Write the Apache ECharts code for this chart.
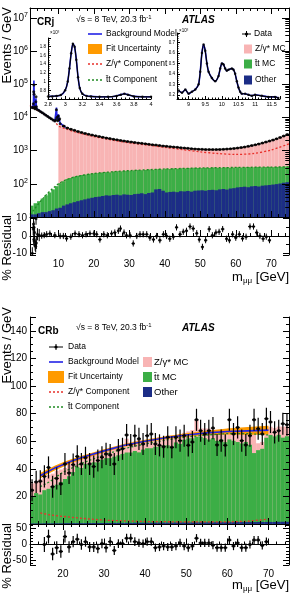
<!DOCTYPE html>
<html>
<head>
<meta charset="utf-8">
<script src="https://cdn.jsdelivr.net/npm/echarts@6.0.0/dist/echarts.min.js"></script>
<style>
  html, body { margin: 0; padding: 0; background: #fff; }
  #main { width: 295px; height: 600px; }
</style>
</head>
<body>
<div id="main"></div>
<script>
// ---------- CRj（上图）：1 GeV 分箱，2–75 GeV ----------
const otherJ = [12, 12, 13, 14, 14, 15, 16, 18,
  19, 22, 24, 26, 28, 30,
  32, 34, 36, 38, 40, 41,
  43, 45, 44, 46, 47, 45, 48, 47, 46, 49,
  50, 52, 49, 53, 55, 68, 70, 62, 55, 57,
  58, 56, 60, 59, 61, 58, 62, 63, 64, 62,
  65, 66, 64, 68, 70, 67, 72, 74, 78, 80,
  82, 79, 84, 86, 83, 88, 90, 92, 95, 98,
  102, 108, 112]
const ttbarJ = [10, 14, 17, 22, 31, 40, 52, 67,
  86, 98, 116, 124, 137, 145,
  153, 156, 164, 167, 170, 171,
  177, 180, 178, 189, 193, 193, 197, 203, 202, 206,
  210, 206, 213, 217, 210, 207, 210, 208, 230, 223,
  232, 229, 235, 231, 239, 237, 243, 237, 234, 243,
  235, 244, 241, 232, 238, 245, 233, 236, 237, 230,
  233, 241, 228, 232, 239, 227, 230, 233, 223, 224,
  223, 222, 223]
const zmcJ = [0, 0, 0, 0, 0, 0, 0, 0,
  5700, 5180, 4710, 4300, 3940, 3630, 3370, 3130, 2920, 2750,
  2590, 2450, 2320, 2200, 2090, 1980, 1880, 1800, 1720, 1640,
  1580, 1520, 1450, 1400, 1350, 1290, 1250, 1200, 1150, 1120,
  1070, 1040, 1000, 975, 935, 910, 875, 855, 825, 810,
  800, 780, 780, 770, 775, 790, 790, 810, 835, 860,
  885, 930, 975, 1030, 1110, 1180, 1280, 1385, 1500, 1625,
  1780, 1960, 2180, 2420, 2720]

const dataMassJ = [2.6, 2.8, 2.95, 3.05, 3.1, 3.15, 3.25, 3.4, 3.55, 3.65, 3.7, 3.8, 4.0, 4.5, 5.0,
  5.5, 6.0, 6.5, 7.0, 7.5, 8.0, 8.5, 9.0, 9.3, 9.45, 9.6, 9.8, 10.0, 10.2, 10.35, 10.5, 11.5,
  12.5, 13.5, 14.5, 15.5, 16.5, 17.5, 18.5, 19.5, 20.5, 21.5, 22.5, 23.5, 24.5, 25.5, 26.5, 27.5,
  28.5, 29.5, 30.5, 31.5, 32.5, 33.5, 34.5, 35.5, 36.5, 37.5, 38.5, 39.5, 40.5, 41.5, 42.5, 43.5,
  44.5, 45.5, 46.5, 47.5, 48.5, 49.5, 50.5, 51.5, 52.5, 53.5, 54.5, 55.5, 56.5, 57.5, 58.5, 59.5,
  60.5, 61.5, 62.5, 63.5, 64.5, 65.5, 66.5, 67.5, 68.5, 69.5, 70.5, 71.5, 72.5, 73.5, 74.5]
const dataJ = [20000, 19500, 26000, 60000, 95000, 50000, 21000, 18500, 19000, 30000, 42000, 21000, 17500, 16300, 15000,
  13800, 12700, 11700, 10800, 9900, 9100, 8400, 7800, 8500, 17000, 10000, 8000, 11000, 8500, 9200, 6500, 5500,
  4850, 4450, 4100, 3800, 3550, 3320, 3120, 2950, 2800, 2660, 2540, 2420, 2310, 2210, 2120, 2040,
  1960, 1890, 1830, 1770, 1710, 1660, 1610, 1560, 1510, 1470, 1430, 1390, 1350, 1320, 1290, 1260,
  1230, 1200, 1175, 1150, 1130, 1110, 1095, 1085, 1080, 1078, 1080, 1090, 1100, 1120, 1140, 1170,
  1200, 1240, 1290, 1350, 1420, 1500, 1600, 1700, 1820, 1950, 2100, 2280, 2500, 2750, 3050]

// 背景模型（共振区可见）
const modelMassJ = [2.6, 2.8, 2.95, 3.0, 3.05, 3.1, 3.15, 3.2, 3.3, 3.5, 3.6, 3.68, 3.75, 3.85, 4.0, 5, 6, 7, 8, 9,
  9.3, 9.46, 9.6, 9.8, 10.02, 10.2, 10.36, 10.5, 11, 12]
const modelJ = [20000, 19500, 25000, 40000, 80000, 130000, 70000, 30000, 19500, 18500, 21000, 38000, 26000, 18500, 17500,
  15000, 12700, 10800, 9100, 7800, 8500, 20000, 10500, 8200, 12500, 8800, 10000, 6800, 6000, 5000]
const zCompMassJ = [2, 3, 4, 5, 6, 7, 8, 9, 10, 12, 15, 20, 25, 30, 35, 40, 45, 50, 55, 60, 65, 70, 75]
const zCompJ = [23000, 19000, 16500, 14500, 12500, 10600, 9000, 7700, 5600, 4600, 3600, 2650, 2100, 1720,
  1480, 1260, 1080, 920, 820, 770, 820, 1050, 1600]
const ttCompMassJ = [2, 3, 4, 5, 6, 7, 8, 9, 10, 12, 15, 20, 25, 30, 40, 50, 60, 70, 75]
const ttCompJ = [12, 16, 22, 30, 40, 52, 66, 82, 100, 130, 165, 205, 230, 250, 280, 300, 312, 320, 325]

const resMassJ = [2.65, 2.9, 3.0, 3.05, 3.1, 3.2, 3.3, 3.45, 3.6, 3.7, 3.8, 4.1, 4.6, 5.3, 6.0,
  6.7, 7.6, 9.0, 10.5, 11.4, 12.3, 13.5, 14.7, 15.8, 16.8, 17.8, 18.9, 20.0, 20.8, 21.7, 22.8,
  23.8, 25.0, 25.9, 26.9, 27.5, 28.5, 29.2, 30.2, 31.1, 32.1, 33.0, 33.9, 34.9, 35.8, 36.8, 37.7,
  38.6, 39.6, 40.5, 41.4, 42.4, 43.3, 44.3, 45.2, 46.1, 47.1, 48.0, 49.0, 49.7, 50.6, 51.5, 52.5,
  53.4, 54.4, 55.3, 56.3, 57.4, 58.2, 59.1, 60.0, 61.0, 61.9, 62.9, 64.0, 65.0, 65.9, 66.8, 67.7,
  68.6, 69.5]
const resJ = [-10, 4, 7, -2, 5, -3, 2, -5, -6, 10, -4, 1, 0.5, 0.2, 0.5,
  1, 1.4, 0.5, 0, 0, -1.4, -0.4, 1.4, 1, 0.4, 1, 1.4, 1.4, 1, -2, 1,
  0.4, 1.4, 2, 3, 4.3, 2, 0.4, 0.4, -4.3, 0, 1, 1, 1, -1, -2, 0,
  -2.4, 1, 0, -1.6, -0.4, 5, 1, 2.4, 3, 5.5, 4.3, 1.6, -2, -6.3, -2.4, 4,
  0.4, 2, 2.4, 4, -1.6, -2.4, 1, -1, 1, -1.4, -0.4, 5.5, 5.5, 2, 0, -1.6,
  -0.4, -2.4]
const resErrLowJ = 3.5   // J/ψ 区域误差
const resErrJ = 1.8

// 插图：J/ψ 与 Υ 区域（×10³）
const insetMassA = [2.8, 2.85, 2.9, 2.95, 3.0, 3.03, 3.05, 3.07, 3.09, 3.11, 3.13, 3.15, 3.17, 3.2, 3.25,
  3.3, 3.4, 3.5, 3.6, 3.65, 3.69, 3.73, 3.8, 3.9, 4.0]
const insetA = [0.66, 0.66, 0.67, 0.69, 0.8, 1.0, 1.3, 1.65, 1.87, 1.8, 1.5, 1.1, 0.85, 0.72, 0.67,
  0.66, 0.65, 0.65, 0.67, 0.7, 0.72, 0.7, 0.66, 0.65, 0.65]
const insetMassB = [8.7, 8.8, 8.9, 9.0, 9.1, 9.2, 9.3, 9.35, 9.4, 9.45, 9.5, 9.55, 9.6, 9.7, 9.8, 9.9,
  9.95, 10.0, 10.05, 10.1, 10.15, 10.2, 10.3, 10.35, 10.4, 10.45, 10.5, 10.55, 10.6, 10.7, 10.8,
  10.9, 11.0, 11.2, 11.4, 11.6, 11.7]
const insetB = [0.24, 0.22, 0.25, 0.21, 0.23, 0.25, 0.3, 0.42, 0.6, 0.68, 0.62, 0.5, 0.42, 0.36, 0.33, 0.38,
  0.45, 0.5, 0.49, 0.45, 0.43, 0.44, 0.45, 0.44, 0.4, 0.33, 0.27, 0.23, 0.21, 0.21, 0.2,
  0.19, 0.2, 0.19, 0.18, 0.18, 0.17]

// ---------- CRb（下图）：1 GeV 分箱，12–75 GeV ----------
const otherB = [0.4, 0.4, 0.4, 0.5, 0.5, 0.5, 0.5, 0.5, 0.6, 0.6,
  0.6, 0.6, 0.6, 0.6, 0.7, 0.7, 0.7, 0.7, 0.7, 0.7,
  0.8, 0.8, 0.8, 0.8, 0.8, 0.9, 0.9, 0.9, 0.9, 0.9,
  1.0, 1.0, 1.0, 1.0, 1.0, 1.1, 1.1, 1.1, 1.1, 1.1,
  1.2, 1.2, 1.2, 1.2, 1.2, 1.3, 1.3, 1.3, 1.3, 1.3,
  1.4, 1.4, 1.4, 1.4, 1.4, 1.5, 1.5, 1.5, 1.5, 1.5,
  1.6, 1.6, 1.6]
const ttbarB = [20, 22, 21, 24, 25, 27, 28, 30, 32, 34,
  37, 41, 40, 43, 42, 44, 44, 46, 47, 47,
  48, 49, 50, 51, 51, 52, 51, 53, 54, 54,
  55, 55, 56, 56, 55, 58, 57, 60, 61, 61,
  62, 62, 61, 60, 61, 59, 60, 58, 60, 59,
  58, 57, 58, 56, 50, 52, 53, 61, 63, 62,
  63, 61, 62]
const zmcB = [9, 8, 11, 9, 10, 9, 10, 9, 8, 9,
  8, 6, 8, 6, 7, 6, 7, 6, 6, 7,
  7, 6, 6, 10, 7, 7, 9, 6, 6, 7,
  6, 7, 6, 7, 8, 5, 7, 5, 5, 6,
  12, 6, 7, 8, 6, 8, 7, 9, 8, 9,
  10, 9, 10, 11, 16, 5, 5, 7, 6, 6,
  6, 8, 7]
const dataMassB = [12.5, 13.5, 14.5, 15.5, 16.5, 17.5, 18.5, 19.5, 20.5, 21.5,
  22.5, 23.5, 24.5, 25.5, 26.5, 27.5, 28.5, 29.5, 30.5, 31.5,
  32.5, 33.5, 34.5, 35.5, 36.5, 37.5, 38.5, 39.5, 40.5, 41.5,
  42.5, 43.5, 44.5, 45.5, 46.5, 47.5, 48.5, 49.5, 50.5, 51.5,
  52.5, 53.5, 54.5, 55.5, 56.5, 57.5, 58.5, 59.5, 60.5, 61.5,
  62.5, 63.5, 64.5, 65.5, 66.5, 67.5, 68.5, 69.5, 70.5, 71.5,
  72.5, 73.5, 74.5]
const dataB = [24.5, 30.5, 31, 34.5, 41, 27, 33, 29, 43.5, 37,
  43, 49, 43.5, 48, 43.5, 41.6, 46, 48.4, 50.8, 50,
  43.5, 53.6, 54.5, 64.5, 57.3, 64, 61.7, 58, 64, 65.2,
  58, 57, 56, 62.9, 55.6, 62.9, 60.4, 64, 57, 59.4,
  75.5, 67.6, 65.2, 67.6, 69.5, 57.3, 60.4, 57, 75.5, 65.2,
  70, 60.4, 57.3, 64, 75.5, 69, 65.2, 76.3, 73.9, 66.4,
  67.6, 72.6, 72]
const dataErrB = 8

const modelMassB = [14.5, 16, 18, 20, 22, 25, 30, 35, 40, 45, 50, 55, 60, 65, 70]
const modelB = [35, 37.5, 40.5, 43, 45.5, 48.5, 53, 57, 60, 62.5, 64.5, 66, 67, 67.5, 68]
const fitErrB = [2, 1.9, 1.8, 1.7, 1.5, 1.4, 1.2, 1.1, 1.0, 1.0, 1.2, 1.5, 2.2, 2.8, 3.2]
const zCompMassB = [14.5, 17, 20, 25, 30, 35, 40, 50, 60, 65, 70]
const zCompB = [8, 6.5, 5.5, 4, 2.8, 2.2, 1.8, 1.5, 1.5, 2, 3.5]
const ttCompMassB = [14.5, 17, 20, 25, 30, 35, 40, 45, 50, 55, 60, 65, 70]
const ttCompB = [27, 31, 37.5, 44.5, 50, 54.8, 58, 60.8, 63, 64.5, 65.5, 65.5, 64.5]

const resMassB = [15.5, 16.5, 17.5, 18.5, 19.5, 20.5, 21.5, 22.5, 23.5, 24.5, 25.5, 26.5, 27.5, 28.5,
  29.5, 30.5, 31.5, 32.5, 33.5, 34.5, 35.5, 36.5, 37.5, 38.5, 39.5, 40.5, 41.5, 42.5, 43.5, 44.5,
  45.5, 46.5, 47.5, 48.5, 49.5, 50.5, 51.5, 52.5, 53.5, 54.5, 55.5, 56.5, 57.5, 58.5, 59.5, 60.5,
  61.5, 62.5, 63.5, 64.5, 65.5, 66.5, 67.5, 68.5, 69.5]
const resB = [0, 25, -30, -10, -22, 25, -8, 9, 17, 0, 9, -8, -8, -13,
  3, -10, 9, -19, 3, 3, 20, 20, 9, 5, 3, 9, 9, -10, -8, -5,
  -8, -8, -5, 5, -5, -10, -5, 20, 5, 5, 5, -2, -10, -10, -10, 14,
  -5, 5, -10, -10, 0, 14, 14, -3, 9]
const resErrB = [24, 22, 20, 20, 20, 19, 18, 18, 17, 17, 16, 16, 16, 15,
  15, 15, 15, 14, 14, 14, 14, 14, 14, 13, 13, 13, 13, 13, 13, 13,
  13, 13, 13, 13, 13, 13, 13, 13, 13, 13, 13, 13, 13, 13, 13, 13,
  13, 13, 13, 13, 13, 13, 13, 13, 13]

// ---------- 样式 ----------
const FONT = '"Liberation Sans", Arial, Helvetica, sans-serif'
const C = {
  pink: '#f8b4b4', green: '#3cae46', navy: '#1c2d86', model: '#2323e6',
  fit: '#ff9a00', zc: '#e8302a', tc: '#1f8a22'
}

// 分箱累积（叠加直方图）
const stackTops = (a, b, c) => {
  const lo = a.slice()
  const mid = a.map((v, i) => v + b[i])
  const hi = mid.map((v, i) => (c[i] > 0 ? v + c[i] : '-'))
  return [lo, mid, hi]
}
const [blueJ, greenJ, pinkJ] = stackTops(otherJ, ttbarJ, zmcJ)
const [blueB, greenB, pinkB] = stackTops(otherB, ttbarB, zmcB)
const binsJ = otherJ.map((_, i) => String(i))
const binsB = otherB.map((_, i) => String(i))

const pairs = (xs, ys) => xs.map((x, i) => [x, ys[i]])
// 误差棒数据: [x, y, yErr, xHalfWidth]，半宽取相邻点间距
const withErr = (xs, ys, errFn, maxHalf) => xs.map((x, i) => {
  const l = i > 0 ? x - xs[i - 1] : maxHalf * 2
  const r = i < xs.length - 1 ? xs[i + 1] - x : maxHalf * 2
  return [x, ys[i], errFn(i), Math.min(maxHalf, Math.min(l, r) / 2)]
})

const errBarItem = (color, width) => (params, api) => {
  const x = api.value(0), y = api.value(1), e = api.value(2), hw = api.value(3)
  const a = api.coord([x - hw, y]), b = api.coord([x + hw, y])
  const children = [{type: 'line', shape: {x1: a[0], y1: a[1], x2: b[0], y2: b[1]}, style: {stroke: color, lineWidth: width}}]
  if (e > 0) {
    const lo = api.coord([x, y - e]), hi = api.coord([x, y + e])
    children.push({type: 'line', shape: {x1: lo[0], y1: lo[1], x2: hi[0], y2: hi[1]}, style: {stroke: color, lineWidth: width}})
  }
  return {type: 'group', children}
}

// 拟合不确定带（多边形）
const fitBand = (params, api) => {
  const upper = modelMassB.map((x, i) => api.coord([x, modelB[i] + fitErrB[i]]))
  const lower = modelMassB.map((x, i) => api.coord([x, modelB[i] - fitErrB[i]])).reverse()
  return {type: 'polygon', shape: {points: upper.concat(lower)}, style: {fill: C.fit}}
}

// 坐标轴
const tickStyle = {color: '#000', width: 1}
const labelStyle = {color: '#000', fontFamily: FONT, fontSize: 10}
const valueAxis = (o) => Object.assign({
  type: 'value', z: 5,
  axisLine: {show: true, lineStyle: {color: '#000', width: 1}},
  axisTick: {show: true, inside: true, length: 6, lineStyle: tickStyle},
  minorTick: {show: true, splitNumber: 5, length: 3, lineStyle: tickStyle},
  axisLabel: {show: false},
  splitLine: {show: false}
}, o)

const logMinor = []
for (let e = 1; e <= 7; e++) for (let k = 2; k <= 9; k++) if (k * 10 ** e < 2e7) logMinor.push(k * 10 ** e)
const sup = {b: {fontSize: 10, fontFamily: FONT, color: '#000', lineHeight: 13},
  e: {fontSize: 7, fontFamily: FONT, color: '#000', verticalAlign: 'top', lineHeight: 13}}

const xAxis = [
  valueAxis({gridIndex: 0, min: 2, max: 75, splitNumber: 7}),
  valueAxis({gridIndex: 0, min: 2, max: 75, splitNumber: 7, position: 'top'}),
  {type: 'category', gridIndex: 0, data: binsJ, show: false},
  valueAxis({gridIndex: 1, min: 2, max: 75, splitNumber: 7,
    axisLabel: Object.assign({show: true, margin: 4, showMinLabel: false, showMaxLabel: false}, labelStyle)}),
  valueAxis({gridIndex: 2, min: 2.8, max: 4, interval: 0.2, axisTick: {inside: true, length: 3, lineStyle: tickStyle},
    minorTick: {show: true, splitNumber: 4, length: 1.5, lineStyle: tickStyle},
    axisLabel: {show: true, fontSize: 5.5, fontFamily: FONT, color: '#000', margin: 2, formatter: v => String(+v.toFixed(1))}}),
  valueAxis({gridIndex: 3, min: 8.65, max: 11.75, splitNumber: 6, axisTick: {inside: true, length: 3, lineStyle: tickStyle},
    minorTick: {show: true, splitNumber: 5, length: 1.5, lineStyle: tickStyle},
    axisLabel: {show: true, fontSize: 5.5, fontFamily: FONT, color: '#000', margin: 2, showMinLabel: false, showMaxLabel: false}}),
  valueAxis({gridIndex: 4, min: 12, max: 75, splitNumber: 6}),
  valueAxis({gridIndex: 4, min: 12, max: 75, splitNumber: 6, position: 'top'}),
  {type: 'category', gridIndex: 4, data: binsB, show: false},
  valueAxis({gridIndex: 5, min: 12, max: 75, splitNumber: 6,
    axisLabel: Object.assign({show: true, margin: 4, showMinLabel: false, showMaxLabel: false}, labelStyle)})
]

const logAxis = (o) => Object.assign({
  type: 'log', logBase: 10, min: 10, max: 2e7, splitNumber: 6, z: 5,
  axisLine: {show: true, lineStyle: {color: '#000', width: 1}},
  axisTick: {show: true, inside: true, length: 7, lineStyle: tickStyle},
  axisLabel: {show: false}, splitLine: {show: false}
}, o)

const yAxis = [
  logAxis({gridIndex: 0, axisLabel: {show: true, margin: 2, showMinLabel: false, showMaxLabel: false, rich: sup,
    formatter: v => '{b|10}{e|' + Math.round(Math.log10(v)) + '}'}}),
  logAxis({gridIndex: 0, position: 'right'}),
  logAxis({gridIndex: 0, axisLine: {show: false}, axisTick: {show: true, inside: true, length: 3.5, lineStyle: tickStyle, customValues: logMinor}}),
  logAxis({gridIndex: 0, position: 'right', axisLine: {show: false}, axisTick: {show: true, inside: true, length: 3.5, lineStyle: tickStyle, customValues: logMinor}}),
  valueAxis({gridIndex: 1, min: -11, max: 11, splitNumber: 2, minorTick: {show: true, splitNumber: 2, length: 3, lineStyle: tickStyle},
    axisLabel: Object.assign({show: true, margin: 3, showMinLabel: false, showMaxLabel: false}, labelStyle)}),
  valueAxis({gridIndex: 1, min: -11, max: 11, splitNumber: 2, position: 'right', minorTick: {show: true, splitNumber: 2, length: 3, lineStyle: tickStyle}}),
  valueAxis({gridIndex: 2, min: 0.6, max: 2.0, interval: 0.2, axisTick: {inside: true, length: 3, lineStyle: tickStyle},
    minorTick: {show: true, splitNumber: 4, length: 1.5, lineStyle: tickStyle},
    axisLabel: {show: true, fontSize: 4.5, fontFamily: FONT, color: '#000', margin: 2, showMinLabel: false, showMaxLabel: false,
      formatter: v => String(+v.toFixed(1))}}),
  valueAxis({gridIndex: 3, min: 0.16, max: 0.79, splitNumber: 6, axisTick: {inside: true, length: 3, lineStyle: tickStyle},
    minorTick: {show: true, splitNumber: 5, length: 1.5, lineStyle: tickStyle},
    axisLabel: {show: true, fontSize: 4.5, fontFamily: FONT, color: '#000', margin: 2, showMinLabel: false, showMaxLabel: false,
      formatter: v => String(+v.toFixed(1))}}),
  valueAxis({gridIndex: 4, min: 0, max: 150, interval: 20, minorTick: {show: true, splitNumber: 4, length: 3, lineStyle: tickStyle},
    axisLabel: Object.assign({show: true, margin: 3, showMinLabel: false, showMaxLabel: false}, labelStyle)}),
  valueAxis({gridIndex: 4, min: 0, max: 150, interval: 20, position: 'right', minorTick: {show: true, splitNumber: 4, length: 3, lineStyle: tickStyle}}),
  valueAxis({gridIndex: 5, min: -65, max: 65, splitNumber: 2, minorTick: {show: true, splitNumber: 5, length: 3, lineStyle: tickStyle},
    axisLabel: Object.assign({show: true, margin: 3, showMinLabel: false, showMaxLabel: false}, labelStyle)}),
  valueAxis({gridIndex: 5, min: -65, max: 65, splitNumber: 2, position: 'right', minorTick: {show: true, splitNumber: 5, length: 3, lineStyle: tickStyle}})
]

const bars = (xi, yi, data, color) => ({
  type: 'bar', xAxisIndex: xi, yAxisIndex: yi, data, barGap: '-100%', barCategoryGap: '0%',
  itemStyle: {color}, silent: true, clip: true
})
const curve = (xi, yi, data, color, type, width) => ({
  type: 'line', xAxisIndex: xi, yAxisIndex: yi, data, symbol: 'none', smooth: 0.3, z: 4,
  lineStyle: {color, type, width}, silent: true, clip: true
})
const points = (xi, yi, data, size) => ({
  type: 'scatter', xAxisIndex: xi, yAxisIndex: yi, data, symbolSize: size, z: 6,
  itemStyle: {color: '#000'}, silent: true, clip: true
})
const errBars = (xi, yi, data, width) => ({
  type: 'custom', xAxisIndex: xi, yAxisIndex: yi, data, renderItem: errBarItem('#000', width), z: 6, silent: true, clip: true
})
const zeroLine = {silent: true, symbol: 'none', label: {show: false},
  lineStyle: {color: '#333', width: 1, type: 'solid'}, data: [{yAxis: 0}]}

const series = [
  // 上图主面板
  bars(2, 0, pinkJ, C.pink),
  bars(2, 0, greenJ, C.green),
  bars(2, 0, blueJ, C.navy),
  curve(0, 0, pairs(zCompMassJ, zCompJ), C.zc, [2, 2], 1.3),
  curve(0, 0, pairs(ttCompMassJ, ttCompJ), C.tc, [2, 2], 1.3),
  Object.assign(curve(0, 0, pairs(modelMassJ, modelJ), C.model, 'solid', 1.6), {smooth: false}),
  errBars(0, 0, withErr(dataMassJ, dataJ, () => 0, 0.5), 1.6),
  points(0, 0, pairs(dataMassJ, dataJ), 3),
  // 上图残差
  Object.assign(errBars(3, 4, withErr(resMassJ, resJ, i => (resMassJ[i] < 5 ? resErrLowJ : resErrJ), 0.5), 1),
    {markLine: zeroLine}),
  points(3, 4, pairs(resMassJ, resJ), 3),
  // 插图
  Object.assign(curve(4, 6, pairs(insetMassA, insetA), C.model, 'solid', 1.6), {smooth: 0.2}),
  Object.assign(curve(4, 6, pairs(insetMassA, insetA), '#000', 'solid', 1.2), {smooth: 0.2, z: 5}),
  points(4, 6, pairs(insetMassA, insetA), 2.5),
  Object.assign(curve(5, 7, pairs(insetMassB, insetB), C.model, 'solid', 1.6), {smooth: 0.2}),
  Object.assign(curve(5, 7, pairs(insetMassB, insetB), '#000', 'solid', 1.2), {smooth: 0.2, z: 5}),
  points(5, 7, pairs(insetMassB, insetB), 2.5),
  // 下图主面板
  bars(8, 8, pinkB, C.pink),
  bars(8, 8, greenB, C.green),
  bars(8, 8, blueB, C.navy),
  {type: 'custom', xAxisIndex: 6, yAxisIndex: 8, data: [[modelMassB[0], modelB[0]]], renderItem: fitBand,
    z: 3, silent: true, clip: true},
  Object.assign(curve(6, 8, pairs(zCompMassB, zCompB), C.zc, [2, 2], 1.3), {smooth: false}),
  Object.assign(curve(6, 8, pairs(ttCompMassB, ttCompB), C.tc, [2, 2], 1.3), {smooth: false}),
  Object.assign(curve(6, 8, pairs(modelMassB, modelB), C.model, 'solid', 1.6), {smooth: false}),
  errBars(6, 8, withErr(dataMassB, dataB, () => dataErrB, 0.5), 1.2),
  points(6, 8, pairs(dataMassB, dataB), 3.5),
  // 下图残差
  Object.assign(errBars(9, 10, withErr(resMassB, resB, i => resErrB[i], 0.5), 1.2), {markLine: zeroLine}),
  points(9, 10, pairs(resMassB, resB), 3.5)
]

// 文字与图例
const T = (x, y, text, size, extra) => ({
  type: 'text', x, y, z: 20, silent: true,
  style: Object.assign({text, fill: '#000', font: `${size}px ${FONT}`, textAlign: 'left', textVerticalAlign: 'middle'}, extra || {})
})
const vT = (x, y, text, size) => Object.assign(T(x, y, text, size, {textAlign: 'right'}), {rotation: Math.PI / 2})
const L = (x1, x2, y, color, dash, w) => ({
  type: 'line', z: 20, silent: true, shape: {x1, y1: y, x2, y2: y},
  style: {stroke: color, lineWidth: w || 1.5, lineDash: dash || null}
})
const R = (x, y, w, h, color) => ({type: 'rect', z: 20, silent: true, shape: {x, y, width: w, height: h}, style: {fill: color}})
const energy = (x, y, size) => ({
  type: 'text', x, y, z: 20, silent: true,
  style: {text: '{a|√s = 8 TeV, 20.3 fb}{s|-1}', textVerticalAlign: 'middle',
    rich: {a: {fontSize: size, fontFamily: FONT, color: '#000', lineHeight: 11},
      s: {fontSize: size * 0.7, fontFamily: FONT, color: '#000', verticalAlign: 'top', lineHeight: 11}}}
})
const mAxisTitle = (x, y) => ({
  type: 'text', x, y, z: 20, silent: true,
  style: {text: '{m|m}{s|μμ}{m| [GeV]}', textAlign: 'right', textVerticalAlign: 'middle',
    rich: {m: {fontSize: 13, fontFamily: FONT, color: '#000', lineHeight: 16},
      s: {fontSize: 8, fontFamily: FONT, color: '#000', verticalAlign: 'bottom', lineHeight: 16}}}
})
const dataMarker = (x1, x2, y) => [L(x1, x2, y, '#000', null, 1),
  {type: 'line', z: 20, silent: true, shape: {x1: (x1 + x2) / 2, y1: y - 3, x2: (x1 + x2) / 2, y2: y + 3}, style: {stroke: '#000', lineWidth: 1}},
  {type: 'circle', z: 21, silent: true, shape: {cx: (x1 + x2) / 2, cy: y, r: 1.6}, style: {fill: '#000'}}]
const TT = 't\u0304t'

const graphic = [
  // 上图
  vT(7, 7, 'Events / GeV', 13), vT(7, 215, '% Residual', 13), mAxisTitle(289, 277),
  T(37, 22, 'CRj', 10, {font: `bold 10px ${FONT}`}),
  energy(76, 20, 8.5),
  T(182, 20, 'ATLAS', 10, {font: `italic bold 10px ${FONT}`}),
  L(88, 102, 34, C.model, null, 1.6), T(106, 34, 'Background Model', 8.5),
  R(88, 44, 14, 10, C.fit), T(106, 49, 'Fit Uncertainty', 8.5),
  L(88, 102, 64, C.zc, [2, 2], 1.3), T(106, 64, 'Z/γ* Component', 8.5),
  L(88, 102, 80, C.tc, [2, 2], 1.3), T(106, 80, TT + ' Component', 8.5),
  ...dataMarker(242, 251, 34), T(254, 34, 'Data', 8.5),
  R(244, 44.5, 8, 9, C.pink), T(255, 49, 'Z/γ* MC', 8.5),
  R(244, 59.5, 8, 9, C.green), T(255, 64, TT + ' MC', 8.5),
  R(244, 75.5, 8, 9, C.navy), T(255, 80, 'Other', 8.5),
  T(50, 33, '×10³', 4.5), T(179, 31, '×10³', 4.5),
  // 下图
  vT(7, 307, 'Events / GeV', 13), vT(7, 523, '% Residual', 13), mAxisTitle(289, 585),
  T(38, 331, 'CRb', 10, {font: `bold 10px ${FONT}`}),
  energy(76, 328, 8.5),
  T(182, 328, 'ATLAS', 10, {font: `italic bold 10px ${FONT}`}),
  ...dataMarker(49, 63, 347), T(68, 347, 'Data', 8.5),
  L(49, 63, 362, C.model, null, 1.6), T(68, 362, 'Background Model', 8.5),
  R(48, 371, 16, 12, C.fit), T(68, 377, 'Fit Uncertainty', 8.5),
  L(49, 63, 392, C.zc, [2, 2], 1.3), T(68, 392, 'Z/γ* Component', 8.5),
  L(49, 63, 407, C.tc, [2, 2], 1.3), T(68, 407, TT + ' Component', 8.5),
  R(143, 357, 9, 10, C.pink), T(154, 362, 'Z/γ* MC', 9.5),
  R(143, 372, 9, 10, C.green), T(154, 377, TT + ' MC', 9.5),
  R(143, 387, 9, 10, C.navy), T(154, 392, 'Other', 9.5)
]

const chart = echarts.init(document.getElementById('main'))
chart.setOption({
  animation: false,
  textStyle: {fontFamily: FONT},
  grid: [
    {left: 30, top: 8, width: 259, height: 209},
    {left: 30, top: 217, width: 259, height: 38},
    {left: 48, top: 38, width: 103, height: 61},
    {left: 177, top: 33, width: 103, height: 66},
    {left: 30, top: 317, width: 259, height: 207},
    {left: 30, top: 524, width: 259, height: 41}
  ],
  xAxis, yAxis, series, graphic
})
</script>
</body>
</html>
